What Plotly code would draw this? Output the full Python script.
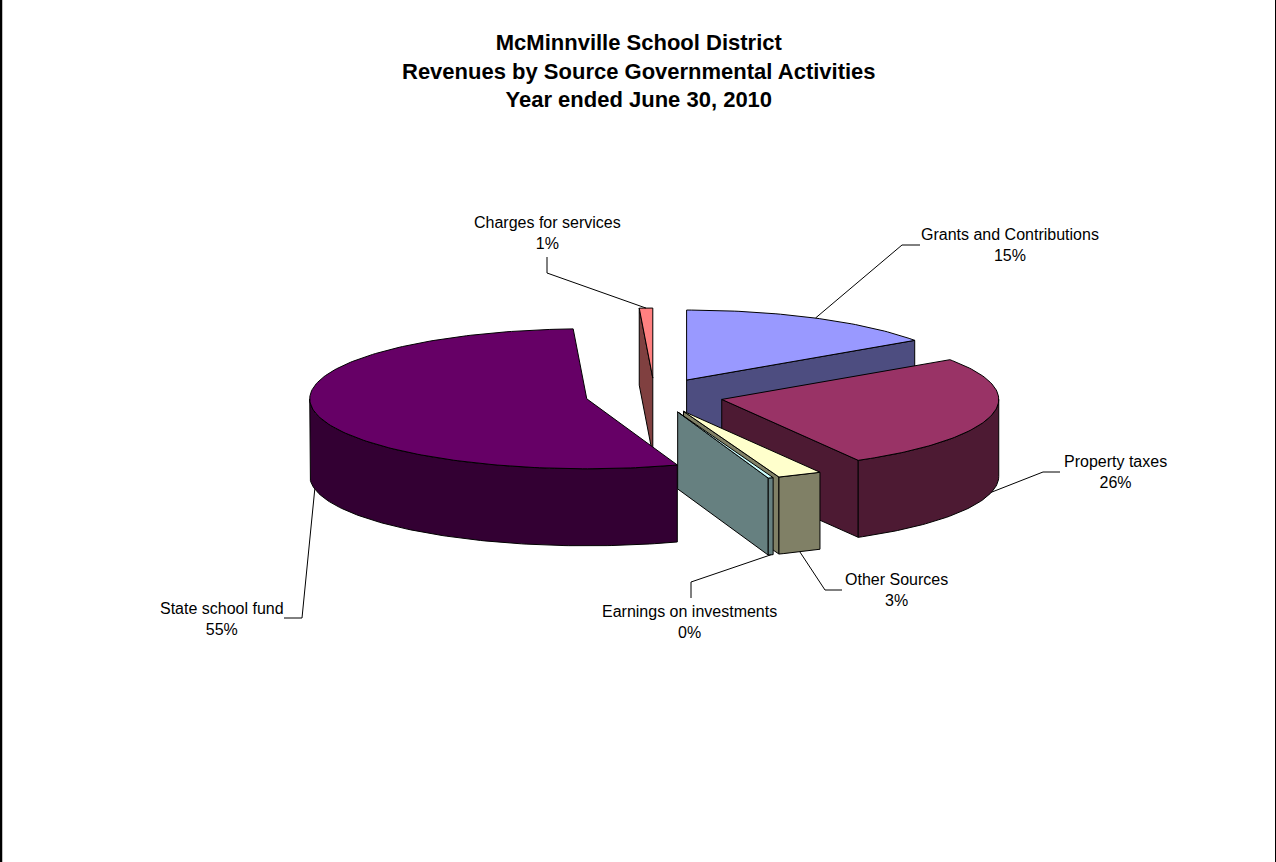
import numpy as np
import plotly.graph_objects as go

# ---------------- data ----------------
categories = ["Grants and Contributions", "Property taxes", "Other Sources",
              "Earnings on investments", "State school fund", "Charges for services"]
values = [15.4, 26.4, 2.6, 0.3, 54.52, 0.78]
title_lines = ["McMinnville School District",
               "Revenues by Source Governmental Activities",
               "Year ended June 30, 2010"]

# ---------------- style / layout ----------------
top_colors = ["#9999FF", "#993366", "#FFFFCC", "#CCFFFF", "#660066", "#FF8080"]
side_colors = ["#4D4D80", "#4D1A33", "#808066", "#668080", "#330033", "#804040"]
W, H_FIG = 1276, 862
CX, CY = 654.5, 395.5      # pie centre (pixels)
RX, RY = 277.0, 70.0       # projected radii
DEPTH = 77.0               # pie thickness
EXPLODE = 69.0             # explosion distance
leader_depth = [0, 1, 1, 1, 1, 0]   # leader attaches to top (0) or bottom (1) rim
label_pos = [(1010, 245), (1115, 472), (896, 590), (689, 622), (222, 619), (547, 233)]
leader_elbow = [
    [(920, 245), (902, 245)],
    [(1060, 472), (1043, 472)],
    [(842, 590), (825, 590)],
    [(691, 598), (691, 582)],
    [(284, 618), (302, 618)],
    [(547, 257), (547, 273)],
]
FONT = "Liberation Sans, Arial, sans-serif"

total = sum(values)
fracs = [v / total for v in values]
starts = np.cumsum([0] + fracs[:-1]) * 360.0
ends = starts + np.array(fracs) * 360.0


def pct(v):
    return int(100.0 * v / total + 0.5)


def rim(theta, apex, dz=0.0):
    t = np.radians(theta)
    return apex[0] + RX * np.sin(t), apex[1] - RY * np.cos(t) + dz


def arc(a0, a1, apex, dz=0.0):
    n = max(2, int(abs(a1 - a0)) + 2)
    th = np.linspace(a0, a1, n)
    t = np.radians(th)
    return list(apex[0] + RX * np.sin(t)), list(apex[1] - RY * np.cos(t) + dz)


fig = go.Figure()


def poly(xs, ys, color):
    fig.add_trace(go.Scatter(x=list(xs) + [xs[0]], y=list(ys) + [ys[0]], mode="lines",
                             fill="toself", fillcolor=color,
                             line=dict(color="black", width=1),
                             hoverinfo="skip", showlegend=False))


slices = []
for i in range(len(values)):
    a0, a1 = starts[i], ends[i]
    b = (a0 + a1) / 2.0
    br = np.radians(b)
    apex = (CX + EXPLODE * np.sin(br), CY - EXPLODE * np.cos(br) * RY / RX)
    slices.append((np.cos(br), i, a0, a1, b, apex))

# painter's order: back slices first
for _, i, a0, a1, b, apex in sorted(slices, key=lambda s: -s[0]):
    # radial faces
    for ang, vis in ((a0, np.sin(np.radians(a0)) < 0), (a1, np.sin(np.radians(a1)) > 0)):
        if vis:
            p = rim(ang, apex)
            poly([apex[0], p[0], p[0], apex[0]],
                 [apex[1], p[1], p[1] + DEPTH, apex[1] + DEPTH], side_colors[i])
    # outer curved face (front half only)
    lo, hi = max(a0, 90.0), min(a1, 270.0)
    if hi > lo:
        tx, ty = arc(lo, hi, apex)
        bx, by = arc(hi, lo, apex, DEPTH)
        poly(tx + bx, ty + by, side_colors[i])
    # top face
    tx, ty = arc(a0, a1, apex)
    poly([apex[0]] + tx, [apex[1]] + ty, top_colors[i])

# leader lines and labels
for _, i, a0, a1, b, apex in slices:
    anchor = rim(b, apex, DEPTH * leader_depth[i])
    pts = leader_elbow[i] + [anchor]
    fig.add_trace(go.Scatter(x=[p[0] for p in pts], y=[p[1] for p in pts], mode="lines",
                             line=dict(color="black", width=1),
                             hoverinfo="skip", showlegend=False))
    fig.add_annotation(x=label_pos[i][0], y=label_pos[i][1], xref="x", yref="y",
                       text=f"{categories[i]}<br>{pct(values[i])}%",
                       showarrow=False, align="center", xanchor="center", yanchor="middle",
                       font=dict(family=FONT, size=16, color="black"))

fig.add_annotation(x=639, y=71, xref="x", yref="y", text="<br>".join(title_lines),
                   showarrow=False, align="center", xanchor="center", yanchor="middle",
                   font=dict(family=FONT, size=22, color="black", weight="bold"))

fig.add_shape(type="line", xref="x", yref="y", x0=1, x1=1, y0=0, y1=H_FIG,
              line=dict(color="black", width=2.5))
fig.add_shape(type="line", xref="x", yref="y", x0=1275.5, x1=1275.5, y0=0, y1=H_FIG,
              line=dict(color="black", width=1))

fig.update_layout(
    width=W, height=H_FIG, autosize=False,
    margin=dict(l=0, r=0, t=0, b=0),
    paper_bgcolor="white", plot_bgcolor="white",
    xaxis=dict(range=[0, W], visible=False, fixedrange=True),
    yaxis=dict(range=[H_FIG, 0], visible=False, fixedrange=True),
    showlegend=False,
)

fig.write_html("out.html")
